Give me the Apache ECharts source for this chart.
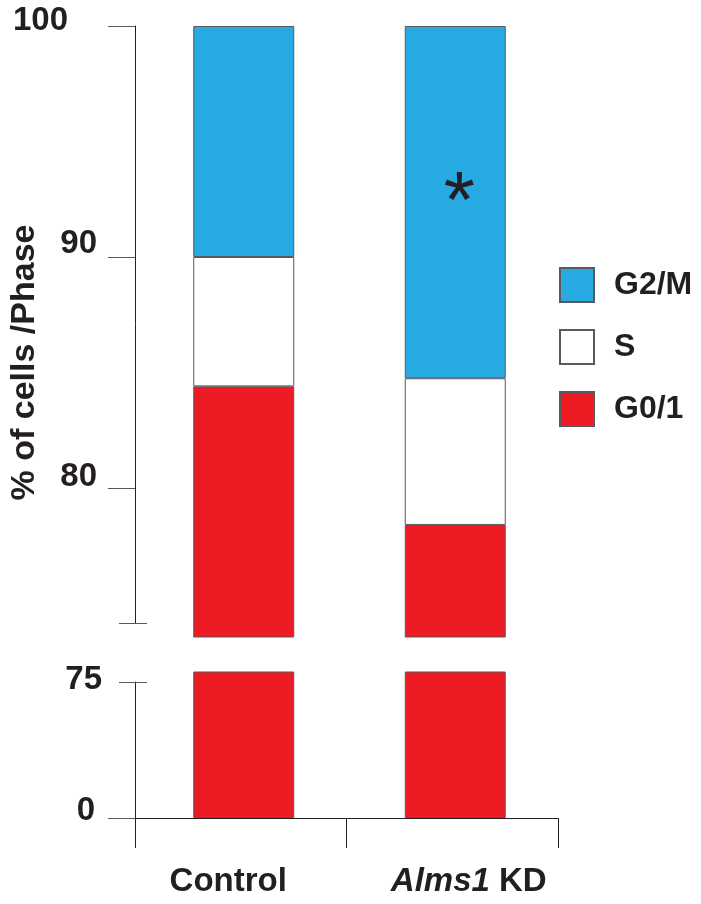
<!DOCTYPE html>
<html><head><meta charset="utf-8">
<script src="https://cdn.jsdelivr.net/npm/echarts@6/dist/echarts.min.js"></script>
<style>html,body{margin:0;padding:0;background:#fff}#c{width:701px;height:904px}</style>
</head><body><div id="c"></div>
<script>
// ---- data ----
const categories = ['Control', 'Alms1 KD'];
const g01 = [84.4, 78.4];
const sPhase = [5.6, 6.35];
const g2m = [10.0, 15.25];
const significant = [false, true];
const topTicks = [80, 90, 100];
const bottomTicks = [0, 75];
const legendNames = ['G2/M', 'S', 'G0/1'];
const yTitle = '% of cells /Phase';

// ---- style ----
const FONT = "'Liberation Sans', Arial, Helvetica, sans-serif";
const INK = '#231f20';
const TICK = '#58595b';
const BLUE = '#27aae1', RED = '#ed1c24', WHITE = '#ffffff';
const BORDER = '#58595b';
const L = 135, W = 423, BL = 138;
const TOP_BAR_MIN = 73.55, TOP_AXIS_MIN = 74.16, BOTTOM_BAR_MAX = 78;

const txt = (extra) => Object.assign({fontFamily: FONT, fontSize: 33, fontWeight: 'bold', color: INK}, extra || {});

const grids = [
  {left: BL, width: W, top: 26, height: 611},   // 0 top bars
  {left: BL, width: W, top: 672, height: 146},  // 1 bottom bars
  {left: L, width: W, top: 26, height: 597},    // 2 top axis
  {left: L, width: W, top: 26, height: 597},    // 3 top break tick
  {left: L, width: W, top: 682, height: 136},   // 4 bottom axis + category axis
  {left: L, width: W, top: 682, height: 136},   // 5 bottom break tick
  {left: L, width: W, top: 26, height: 673}     // 6 y title
];

const xAxes = grids.map((g, i) => ({type: 'category', gridIndex: i, data: categories, show: false}));
xAxes[4] = {
  type: 'category', gridIndex: 4, data: categories, boundaryGap: true,
  axisLine: {show: true, lineStyle: {color: INK, width: 1}},
  axisTick: {show: true, length: 30, lineStyle: {color: INK, width: 1}},
  axisLabel: {
    margin: 47,
    formatter: (v) => v === 'Control' ? '{c|Control}' : '{i|Alms1}{b| KD}',
    rich: {
      c: txt({padding: [0, 25, 0, 0]}),
      i: txt({fontStyle: 'italic', padding: [0, 0, 0, 33]}),
      b: txt()
    }
  }
};

const noSplit = {show: false};
const yAxes = [
  {type: 'value', gridIndex: 0, min: TOP_BAR_MIN, max: 100, show: false, splitLine: noSplit},
  {type: 'value', gridIndex: 1, min: 0, max: BOTTOM_BAR_MAX, show: false, splitLine: noSplit},
  {type: 'value', gridIndex: 2, min: TOP_AXIS_MIN, max: 100, position: 'left', splitLine: noSplit,
    axisLine: {show: true, lineStyle: {color: INK, width: 1}},
    axisTick: {show: true, length: 27, customValues: topTicks, lineStyle: {color: TICK}},
    axisLabel: {customValues: topTicks, margin: 38, formatter: (v) => '{t' + v + '|' + v + '}',
      rich: {
        t100: txt({padding: [0, 29, 10, 0]}),
        t90: txt({padding: [0, 0, 26, 0]}),
        t80: txt({padding: [0, 0, 23, 0]})
      }}
  },
  {type: 'value', gridIndex: 3, min: TOP_AXIS_MIN, max: 100, position: 'left', offset: -12, splitLine: noSplit,
    axisLine: {show: false}, axisLabel: {show: false},
    axisTick: {show: true, length: 28, customValues: [TOP_AXIS_MIN], lineStyle: {color: TICK}}
  },
  {type: 'value', gridIndex: 4, min: 0, max: 75, position: 'left', splitLine: noSplit,
    axisLine: {show: true, lineStyle: {color: INK, width: 1}},
    axisTick: {show: true, length: 27, customValues: [0], lineStyle: {color: TICK}},
    axisLabel: {customValues: bottomTicks, margin: 33, formatter: (v) => '{t' + v + '|' + v + '}',
      rich: {
        t75: txt({padding: [0, 0, 4, 0]}),
        t0: txt({padding: [0, 7, 14, 0]})
      }}
  },
  {type: 'value', gridIndex: 5, min: 0, max: 75, position: 'left', offset: -12, splitLine: noSplit,
    axisLine: {show: false}, axisLabel: {show: false},
    axisTick: {show: true, length: 28, customValues: [75], lineStyle: {color: TICK}}
  },
  {type: 'value', gridIndex: 6, min: 0, max: 1, position: 'left', splitLine: noSplit,
    axisLine: {show: false}, axisTick: {show: false}, axisLabel: {show: false},
    name: yTitle, nameLocation: 'middle', nameRotate: 90, nameGap: 98,
    nameTextStyle: txt({fontSize: 34})
  }
];

const barBase = {type: 'bar', barWidth: 101, animation: false};
const itemStyle = (c) => ({color: c, borderColor: BORDER, borderWidth: 1});

const series = [
  Object.assign({}, barBase, {name: 'G0/1', xAxisIndex: 0, yAxisIndex: 0, stack: 'top', itemStyle: itemStyle(RED), data: g01}),
  Object.assign({}, barBase, {name: 'S', xAxisIndex: 0, yAxisIndex: 0, stack: 'top', itemStyle: itemStyle(WHITE), data: sPhase}),
  Object.assign({}, barBase, {name: 'G2/M', xAxisIndex: 0, yAxisIndex: 0, stack: 'top', itemStyle: itemStyle(BLUE),
    data: g2m.map((v, i) => significant[i] ? {value: v, label: {show: true, position: 'inside', formatter: '*',
      fontFamily: FONT, fontSize: 80, fontWeight: 'normal', color: INK, offset: [4, 3]}} : v)}),
  Object.assign({}, barBase, {name: 'G0/1', xAxisIndex: 1, yAxisIndex: 1, itemStyle: itemStyle(RED), data: g01})
];

const option = {
  animation: false,
  backgroundColor: '#fff',
  grid: grids,
  xAxis: xAxes,
  yAxis: yAxes,
  legend: {
    orient: 'vertical', left: 559, top: 267, padding: 0, itemWidth: 34, itemHeight: 34, itemGap: 26,
    icon: 'rect', selectedMode: false, data: legendNames,
    textStyle: txt({fontSize: 32, padding: [0, 0, 0, 15]})
  },
  series: series
};
const chart = echarts.init(document.getElementById('c'), null, {renderer: 'canvas'});
chart.setOption(option);
</script></body></html>
